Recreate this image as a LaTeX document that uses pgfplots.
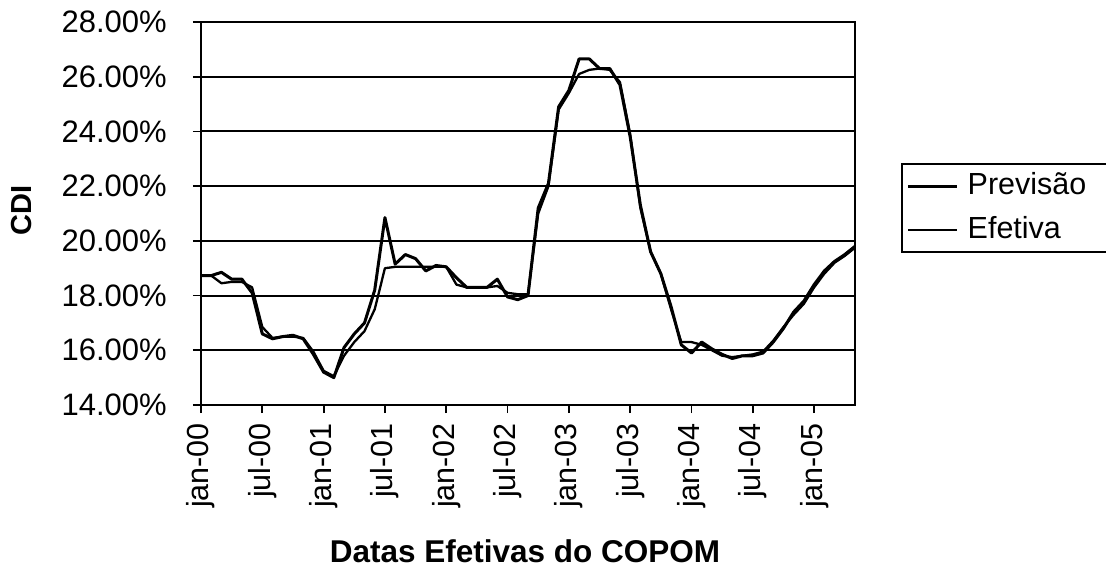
\documentclass[border=0pt]{standalone}
\usepackage{pgfplots}
\pgfplotsset{compat=1.18}
\usepackage{fontspec}
\setmainfont{Liberation Sans}
\begin{document}
\fontsize{30}{36}\selectfont
\begin{tikzpicture}
\path[use as bounding box] (-201pt,-170pt) rectangle (905pt,405pt);
\begin{axis}[
  at={(0,0)}, anchor=south west,
  scale only axis, width=654pt, height=383pt,
  xmin=0, xmax=64, ymin=14, ymax=28,
  xtick={0,6,...,60},
  xticklabels={jan-00,jul-00,jan-01,jul-01,jan-02,jul-02,jan-03,jul-03,jan-04,jul-04,jan-05},
  x tick label style={rotate=90, anchor=east, font=\fontsize{30.5}{36}\selectfont},
  ytick={14,16,...,28},
  yticklabel={\pgfmathprintnumber[fixed,fixed zerofill,precision=2,assume math mode=true]{\tick}\%},
  y tick label style={font=\fontsize{31}{36}\selectfont, xshift=-16pt},
  tick pos=left, tick align=outside, major tick length=8pt,
  every tick/.style={black, line width=1.8pt},
  ymajorgrids, major grid style={black, line width=1.9pt},
  axis line style={black, line width=2pt},
  xlabel={Datas Efetivas do COPOM},
  xlabel style={at={(axis description cs:0.4954,-0.4125)}, anchor=base, font=\bfseries\fontsize{31.5}{36}\selectfont},
  ylabel={CDI},
  ylabel style={at={(axis description cs:-0.2737,0.509)}, anchor=center, font=\bfseries\fontsize{29}{34}\selectfont},
  legend style={at={(axis description cs:1.07,0.632)}, anchor=north west, draw=black, line width=1.8pt,
    font=\fontsize{30.5}{36}\selectfont, row sep=13pt, inner xsep=5pt, inner ysep=7pt,
    /tikz/every even column/.append style={text width=150pt},
    /tikz/every odd column/.append style={column sep=7pt}},
  legend cell align=left,
  legend image code/.code={\draw[#1] (0pt,0pt) -- (49pt,0pt);},
]
\addplot[black, line width=3pt, line join=round] coordinates {
(0,18.73) (1,18.73) (2,18.85) (3,18.6) (4,18.6) (5,18.1) (6,16.6) (7,16.42) (8,16.5) (9,16.55)
(10,16.42) (11,15.85) (12,15.2) (13,15.0) (14,16.1) (15,16.6) (16,17.0) (17,18.2) (18,20.85) (19,19.15)
(20,19.5) (21,19.35) (22,18.9) (23,19.1) (24,19.05) (25,18.65) (26,18.3) (27,18.3) (28,18.3) (29,18.6)
(30,17.95) (31,17.85) (32,18.0) (33,21.2) (34,22.1) (35,24.9) (36,25.5) (37,26.65) (38,26.65) (39,26.3)
(40,26.3) (41,25.7) (42,23.8) (43,21.3) (44,19.6) (45,18.8) (46,17.6) (47,16.2) (48,15.9) (49,16.3)
(50,16.05) (51,15.85) (52,15.7) (53,15.8) (54,15.8) (55,15.9) (56,16.3) (57,16.8) (58,17.4) (59,17.8)
(60,18.4) (61,18.9) (62,19.25) (63,19.5) (64,19.8)
};
\addlegendentry{Previsão}
\addplot[black, line width=2.3pt, line join=round] coordinates {
(0,18.73) (1,18.73) (2,18.45) (3,18.5) (4,18.5) (5,18.3) (6,16.85) (7,16.45) (8,16.5) (9,16.5)
(10,16.45) (11,15.95) (12,15.25) (13,15.05) (14,15.8) (15,16.3) (16,16.7) (17,17.5) (18,19.0) (19,19.05)
(20,19.05) (21,19.05) (22,19.05) (23,19.05) (24,19.05) (25,18.4) (26,18.3) (27,18.3) (28,18.3) (29,18.35)
(30,18.1) (31,18.05) (32,18.05) (33,21.0) (34,22.0) (35,24.8) (36,25.4) (37,26.1) (38,26.25) (39,26.3)
(40,26.25) (41,25.8) (42,23.9) (43,21.2) (44,19.6) (45,18.8) (46,17.5) (47,16.3) (48,16.3) (49,16.2)
(50,16.0) (51,15.8) (52,15.75) (53,15.8) (54,15.85) (55,15.95) (56,16.35) (57,16.85) (58,17.3) (59,17.7)
(60,18.3) (61,18.8) (62,19.2) (63,19.45) (64,19.75)
};
\addlegendentry{Efetiva}
\end{axis}
\end{tikzpicture}
\end{document}
